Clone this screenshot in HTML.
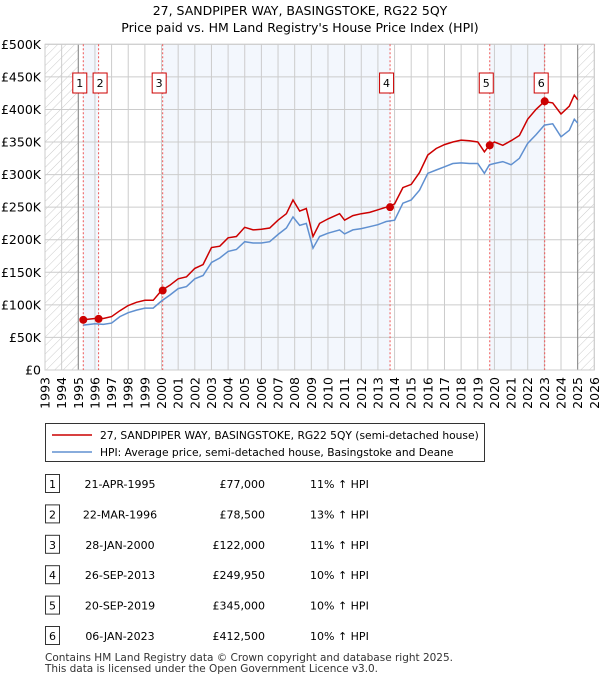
<!DOCTYPE html>
<html><head><meta charset="utf-8"><style>
body{margin:0;background:#fff;font-family:"Liberation Sans","DejaVu Sans",sans-serif;}
svg text{font-family:"DejaVu Sans","Liberation Sans",sans-serif;}
</style></head><body>
<svg id="c" width="600" height="680" xmlns="http://www.w3.org/2000/svg">
<defs><pattern id="hatch" width="6" height="6" patternUnits="userSpaceOnUse" patternTransform="rotate(45)"><line x1="0" y1="0" x2="0" y2="6" stroke="#ccc" stroke-width="1"/></pattern></defs>
<text x="300" y="15" text-anchor="middle" font-size="12.5">27, SANDPIPER WAY, BASINGSTOKE, RG22 5QY</text>
<text x="300" y="32" text-anchor="middle" font-size="12.5">Price paid vs. HM Land Registry's House Price Index (HPI)</text>
<g id="plot"></g>
<g id="below"></g>
</svg>
<script>
const years=[1995.3,1996,1996.5,1997,1997.5,1998,1998.5,1999,1999.5,2000,2000.5,2001,2001.5,2002,2002.5,2003,2003.5,2004,2004.5,2005,2005.5,2006,2006.5,2007,2007.5,2007.9,2008.3,2008.7,2009.1,2009.5,2010,2010.7,2011,2011.5,2012,2012.5,2013,2013.5,2014,2014.5,2015,2015.5,2016,2016.5,2017,2017.5,2018,2018.5,2019,2019.4,2019.7,2020,2020.5,2021,2021.5,2022,2022.5,2023,2023.5,2024,2024.5,2024.8,2025];
const hpi=[69,71,70,72,82,88,92,95,95,106,115,125,128,140,145,165,172,182,185,197,195,195,197,208,218,235,222,225,187,205,210,215,209,215,217,220,223,228,230,256,261,276,302,307,312,317,318,317,317,302,315,317,320,315,325,348,361,376,378,358,368,385,379];
const price=[77,79,79,82,91,99,104,107,107,122,130,140,143,156,162,188,190,203,205,219,215,216,218,230,240,261,244,248,205,225,232,240,230,237,240,242,246,250,255,280,285,303,330,340,346,350,353,352,350,335,345,350,345,352,360,385,400,412,410,393,405,422,415];
const saleDates=[1995.30,1996.22,2000.07,2013.73,2019.72,2023.02];
const saleLabels=["1","2","3","4","5","6"];
const saleValues=[77,78.5,122,249.95,345,412.5];
const saleDateText=["21-APR-1995","22-MAR-1996","28-JAN-2000","26-SEP-2013","20-SEP-2019","06-JAN-2023"];
const salePriceText=["£77,000","£78,500","£122,000","£249,950","£345,000","£412,500"];
const saleHpiText=["11% ↑ HPI","13% ↑ HPI","11% ↑ HPI","10% ↑ HPI","10% ↑ HPI","10% ↑ HPI"];
const yTicks=[0,50,100,150,200,250,300,350,400,450,500];
const yTickLabels=["£0","£50K","£100K","£150K","£200K","£250K","£300K","£350K","£400K","£450K","£500K"];
const xTicks=[1993,1994,1995,1996,1997,1998,1999,2000,2001,2002,2003,2004,2005,2006,2007,2008,2009,2010,2011,2012,2013,2014,2015,2016,2017,2018,2019,2020,2021,2022,2023,2024,2025,2026];

const X0=45,X1=594.3,Y0=370,Y1=44.3;
const xs=y=>X0+(y-1993)/33*(X1-X0);
const ys=v=>Y0-v/500*(Y0-Y1);
const NS="http://www.w3.org/2000/svg";
const plot=document.getElementById('plot'),below=document.getElementById('below');
function mk(t,a,p){const e=document.createElementNS(NS,t);for(const k in a)e.setAttribute(k,a[k]);(p||plot).appendChild(e);return e;}
const bounds=[1995,...saleDates,2025];
for(let i=0;i<bounds.length-1;i++){ if(i%2==1){ const r=mk('rect',{x:xs(bounds[i]),y:Y1,width:xs(bounds[i+1])-xs(bounds[i]),height:Y0-Y1,fill:'#eef3fc',opacity:0.7});

}}
let h1=mk('rect',{x:X0,y:Y1,width:xs(1995)-X0,height:Y0-Y1,fill:'url(#hatch)'});


let h2=mk('rect',{x:xs(2025),y:Y1,width:X1-xs(2025),height:Y0-Y1,fill:'url(#hatch)'});


yTicks.forEach((v,i)=>{mk('line',{x1:X0,x2:X1,y1:ys(v),y2:ys(v),stroke:'#ccc','stroke-width':1});
const t=mk('text',{x:X0-4,y:ys(v)+4.5,'text-anchor':'end','font-size':12.5});t.textContent=yTickLabels[i];

});
xTicks.forEach(y=>{mk('line',{x1:xs(y),x2:xs(y),y1:Y1,y2:Y0,stroke:'#ccc','stroke-width':1});
const t=mk('text',{x:0,y:0,'text-anchor':'end','font-size':12.5,transform:`translate(${xs(y)+4.5},${Y0+7}) rotate(-90)`});t.textContent=y;

});
mk('line',{x1:xs(1995),x2:xs(1995),y1:Y1,y2:Y0,stroke:'#888','stroke-width':1});
mk('line',{x1:xs(2025),x2:xs(2025),y1:Y1,y2:Y0,stroke:'#888','stroke-width':1});
mk('rect',{x:X0,y:Y1,width:X1-X0,height:Y0-Y1,fill:'none',stroke:'#ccc'});
saleDates.forEach((d,i)=>{mk('line',{x1:xs(d),x2:xs(d),y1:Y1,y2:Y0,stroke:'#e55','stroke-width':1,'stroke-dasharray':'2,2'});
const cx=i<2?(i==0?xs(d)-4:xs(d)+1):xs(d)-4;
const b=mk('rect',{x:cx-6.5,y:73,width:14,height:20,fill:'#fff',stroke:'#c00','stroke-width':1});


const t=mk('text',{x:cx+0.5,y:87,'text-anchor':'middle','font-size':11});t.textContent=saleLabels[i];});
const pth=(arr)=>arr.map((v,i)=>(i?'L':'M')+xs(years[i]).toFixed(1)+','+ys(v).toFixed(1)).join('');
const lb=mk('path',{d:pth(hpi),fill:'none',stroke:'#6090d0','stroke-width':1.5});


const lr=mk('path',{d:pth(price),fill:'none',stroke:'#cc0000','stroke-width':1.5});


saleDates.forEach((d,i)=>{const c=mk('circle',{cx:xs(d),cy:ys(saleValues[i]),r:4,fill:'#cc0000'});

});
const lg=mk('rect',{x:45.5,y:423.5,width:439,height:38,fill:'#fff',stroke:'#333'},below);


mk('line',{x1:52,x2:92,y1:435,y2:435,stroke:'#cc0000','stroke-width':1.5},below);
mk('line',{x1:52,x2:92,y1:452,y2:452,stroke:'#6090d0','stroke-width':1.5},below);
let t1=mk('text',{x:100,y:439,'font-size':10.7},below);t1.textContent="27, SANDPIPER WAY, BASINGSTOKE, RG22 5QY (semi-detached house)";


let t2=mk('text',{x:100,y:456,'font-size':10.7},below);t2.textContent="HPI: Average price, semi-detached house, Basingstoke and Deane";


saleLabels.forEach((l,i)=>{const yy=484+i*30.4;
const r=mk('rect',{x:45.5,y:yy-9.5,width:14,height:18,fill:'#fff',stroke:'#333'},below);


const a=mk('text',{x:52.5,y:yy+4,'text-anchor':'middle','font-size':11},below);a.textContent=l;
const b=mk('text',{x:120,y:yy+4,'text-anchor':'middle','font-size':11},below);b.textContent=saleDateText[i];


const c=mk('text',{x:265,y:yy+4,'text-anchor':'end','font-size':11},below);c.textContent=salePriceText[i];


const d=mk('text',{x:310,y:yy+4,'font-size':11},below);d.textContent=saleHpiText[i];

});
let f1=mk('text',{x:45,y:661,'font-size':10.5,fill:'#333',textLength:408},below);f1.textContent="Contains HM Land Registry data © Crown copyright and database right 2025.";


let f2=mk('text',{x:45,y:672,'font-size':10.5,fill:'#333',textLength:333},below);f2.textContent="This data is licensed under the Open Government Licence v3.0.";


</script>
</body></html>
